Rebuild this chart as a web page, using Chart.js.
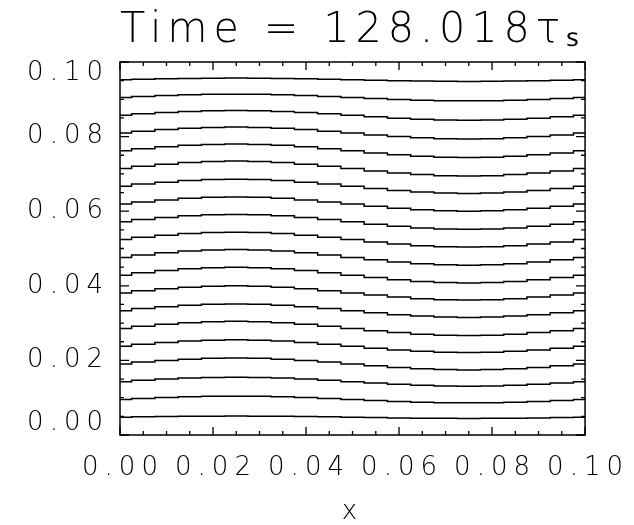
<!DOCTYPE html>
<html><head><meta charset="utf-8">
<script src="https://cdn.jsdelivr.net/npm/chart.js@4.4.0/dist/chart.umd.min.js"></script>
<style>html,body{margin:0;padding:0;background:#fff;}canvas{display:block;}</style>
</head><body>
<canvas id="c" width="634" height="525"></canvas>
<script>
const titleText = 'Time = 128.018τₛ';
const xAxisTitle = 'x';
const xs = [0,0.005,0.01,0.015,0.02,0.025,0.03,0.035,0.04,0.045,0.05,0.055,0.06,0.065,0.07,0.075,0.08,0.085,0.09,0.095,0.1];
const line01 = [.00476,.00486,.00495,.00502,.00506,.00508,.00506,.00502,.00495,.00486,.00476,.00466,.00457,.0045,.00446,.00444,.00446,.0045,.00457,.00466,.00476];
const line02 = [.00952,.0098,.01005,.01025,.01038,.01042,.01038,.01025,.01005,.0098,.00952,.00924,.00899,.00879,.00866,.00862,.00866,.00879,.00899,.00924,.00952];
const line03 = [.01429,.01466,.015,.01526,.01543,.01549,.01543,.01526,.015,.01466,.01429,.01392,.01358,.01332,.01315,.01309,.01315,.01332,.01358,.01392,.01429];
const line04 = [.01905,.01954,.01999,.02034,.02057,.02065,.02057,.02034,.01999,.01954,.01905,.01856,.01811,.01776,.01753,.01745,.01753,.01776,.01811,.01856,.01905];
const line05 = [.02381,.02434,.02481,.02519,.02543,.02551,.02543,.02519,.02481,.02434,.02381,.02328,.02281,.02243,.02219,.02211,.02219,.02243,.02281,.02328,.02381];
const line06 = [.02857,.02916,.02969,.03011,.03038,.03047,.03038,.03011,.02969,.02916,.02857,.02798,.02745,.02703,.02676,.02667,.02676,.02703,.02745,.02798,.02857];
const line07 = [.03333,.03389,.03439,.03479,.03504,.03513,.03504,.03479,.03439,.03389,.03333,.03277,.03227,.03187,.03162,.03153,.03162,.03187,.03227,.03277,.03333];
const line08 = [.0381,.03869,.03922,.03964,.03991,.04,.03991,.03964,.03922,.03869,.0381,.03751,.03698,.03656,.03629,.0362,.03629,.03656,.03698,.03751,.0381];
const line09 = [.04286,.04351,.04409,.04456,.04486,.04496,.04486,.04456,.04409,.04351,.04286,.04221,.04163,.04116,.04086,.04076,.04086,.04116,.04163,.04221,.04286];
const line10 = [.04762,.04827,.04885,.04932,.04962,.04972,.04962,.04932,.04885,.04827,.04762,.04697,.04639,.04592,.04562,.04552,.04562,.04592,.04639,.04697,.04762];
const line11 = [.05238,.053,.05356,.054,.05428,.05438,.05428,.054,.05356,.053,.05238,.05176,.0512,.05076,.05048,.05038,.05048,.05076,.0512,.05176,.05238];
const line12 = [.05714,.05776,.05832,.05876,.05904,.05914,.05904,.05876,.05832,.05776,.05714,.05652,.05596,.05552,.05524,.05514,.05524,.05552,.05596,.05652,.05714];
const line13 = [.0619,.06249,.06302,.06344,.06371,.0638,.06371,.06344,.06302,.06249,.0619,.06131,.06078,.06036,.06009,.06,.06009,.06036,.06078,.06131,.0619];
const line14 = [.06667,.06726,.06779,.06821,.06848,.06857,.06848,.06821,.06779,.06726,.06667,.06608,.06555,.06513,.06486,.06477,.06486,.06513,.06555,.06608,.06667];
const line15 = [.07143,.07205,.07261,.07305,.07333,.07343,.07333,.07305,.07261,.07205,.07143,.07081,.07025,.06981,.06953,.06943,.06953,.06981,.07025,.07081,.07143];
const line16 = [.07619,.07675,.07725,.07765,.0779,.07799,.0779,.07765,.07725,.07675,.07619,.07563,.07513,.07473,.07448,.07439,.07448,.07473,.07513,.07563,.07619];
const line17 = [.08095,.08144,.08189,.08224,.08247,.08255,.08247,.08224,.08189,.08144,.08095,.08046,.08001,.07966,.07943,.07935,.07943,.07966,.08001,.08046,.08095];
const line18 = [.08571,.08611,.08647,.08676,.08695,.08701,.08695,.08676,.08647,.08611,.08571,.08531,.08495,.08466,.08447,.08441,.08447,.08466,.08495,.08531,.08571];
const line19 = [.09048,.09076,.09101,.09121,.09134,.09138,.09134,.09121,.09101,.09076,.09048,.0902,.08995,.08975,.08962,.08958,.08962,.08975,.08995,.0902,.09048];
const line20 = [.09524,.09538,.0955,.0956,.09567,.09569,.09567,.0956,.0955,.09538,.09524,.0951,.09498,.09488,.09481,.09479,.09481,.09488,.09498,.0951,.09524];
const xTickValues = [0,0.02,0.04,0.06,0.08,0.10];
const yTickValues = [0,0.02,0.04,0.06,0.08,0.10];
const xMinorValues = [0.005,0.01,0.015,0.025,0.03,0.035,0.045,0.05,0.055,0.065,0.07,0.075,0.085,0.09,0.095];
const yMinorValues = [0.005,0.01,0.015,0.025,0.03,0.035,0.045,0.05,0.055,0.065,0.07,0.075,0.085,0.09,0.095];

const lines = [line01,line02,line03,line04,line05,line06,line07,line08,line09,line10,
               line11,line12,line13,line14,line15,line16,line17,line18,line19,line20];
const FONT = '"DejaVu Sans", Roboto, sans-serif';
const SPACING = '6px';

class IdlLinear extends Chart.LinearScale {
  _computeLabelItems(area) {
    const items = super._computeLabelItems(area);
    if (this.axis === 'y' && items.length > 1) {
      items[0].options.translation[1] -= 12;
      items[items.length - 1].options.translation[1] += 11;
    }
    return items;
  }
}
IdlLinear.id = 'idlLinear';
IdlLinear.defaults = Chart.LinearScale.defaults;
Chart.register(IdlLinear);

const framePlugin = {
  id: 'frame',
  beforeDraw(chart) {
    const c = chart.ctx;
    c.save(); c.fillStyle = '#fff'; c.fillRect(0, 0, chart.width, chart.height); c.restore();
    c.letterSpacing = SPACING;
  },
  afterDatasetsDraw(chart) {
    const {ctx, chartArea: a, scales: {x, y}} = chart;
    ctx.save();
    ctx.strokeStyle = '#000';
    ctx.lineWidth = 1.5;
    ctx.strokeRect(a.left, a.top, a.right - a.left, a.bottom - a.top);
    ctx.lineWidth = 1.3;
    ctx.beginPath();
    const xt = (vals, len) => vals.forEach(v => {
      const p = x.getPixelForValue(v);
      ctx.moveTo(p, a.bottom); ctx.lineTo(p, a.bottom - len);
      ctx.moveTo(p, a.top); ctx.lineTo(p, a.top + len);
    });
    const yt = (vals, len) => vals.forEach(v => {
      const p = y.getPixelForValue(v);
      ctx.moveTo(a.left, p); ctx.lineTo(a.left + len, p);
      ctx.moveTo(a.right, p); ctx.lineTo(a.right - len, p);
    });
    xt(xTickValues, 8); xt(xMinorValues, 4);
    yt(yTickValues, 9); yt(yMinorValues, 4);
    ctx.stroke();
    ctx.restore();
  }
};

const canvas = document.getElementById('c');
canvas.getContext('2d').letterSpacing = SPACING;

new Chart(canvas, {
  type: 'line',
  data: {
    datasets: lines.map((ln, k) => ({
      label: 'line ' + (k + 1),
      data: xs.map((xv, i) => ({x: xv, y: ln[i]})),
      borderColor: '#000',
      borderWidth: 1.5,
      pointRadius: 0,
      fill: false,
      stepped: 'middle'
    }))
  },
  options: {
    responsive: false,
    animation: false,
    devicePixelRatio: 1,
    layout: {padding: {left: 0, right: 46, top: 0, bottom: 0}},
    plugins: {
      legend: {display: false},
      tooltip: {enabled: false},
      title: {
        display: true, text: titleText, fullSize: false, color: '#000',
        font: {family: FONT, size: 42, weight: '200', lineHeight: 1},
        padding: {top: 10, bottom: 10}
      }
    },
    scales: {
      x: {
        type: 'linear', min: 0, max: 0.1,
        afterBuildTicks: s => { s.ticks = xTickValues.map(v => ({value: v})); },
        afterFit: s => { s.height = 90; },
        grid: {display: false, drawTicks: false},
        border: {display: false},
        ticks: {autoSkip: false, maxRotation: 0, minRotation: 0, padding: 20, color: '#000',
                labelOffset: 3,
                font: {family: FONT, size: 26, weight: '200', lineHeight: 1},
                callback: v => Number(v).toFixed(2)},
        title: {display: true, text: xAxisTitle, color: '#000',
                font: {family: FONT, size: 26, weight: '200', lineHeight: 1},
                padding: {top: 0, bottom: 0}}
      },
      y: {
        type: 'idlLinear', min: 0, max: 0.1,
        afterBuildTicks: s => { s.ticks = yTickValues.map(v => ({value: v})); },
        afterFit: s => { s.width = 120; },
        grid: {display: false, drawTicks: false},
        border: {display: false},
        ticks: {padding: 11, color: '#000',
                font: {family: FONT, size: 26, weight: '200', lineHeight: 1},
                callback: v => Number(v).toFixed(2)}
      }
    }
  },
  plugins: [framePlugin]
});
</script>
</body></html>
